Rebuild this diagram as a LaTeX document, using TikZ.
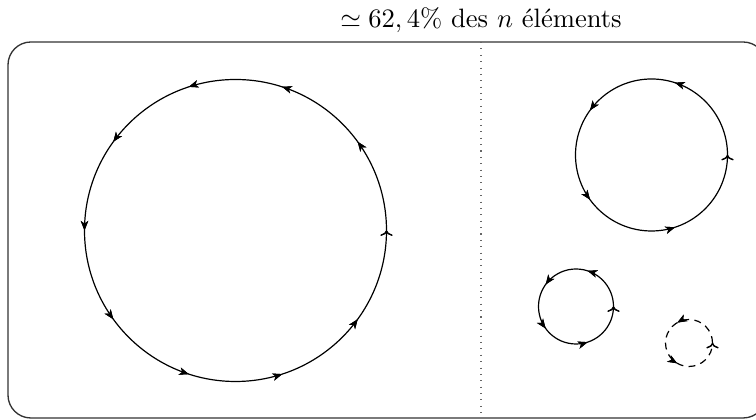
\documentclass[tikz,border=0pt]{standalone}
\usepackage{fontspec}
\usetikzlibrary{decorations.markings,arrows.meta}
\tikzset{
  frame/.style={draw=black!80, line width=0.5pt, rounded corners=8.6pt},
  cyc/.style={draw=black, line width=0.45pt},
  startmark/.style={postaction={decorate},
    decoration={markings, mark=at position 0 with {\arrow{To[length=2pt,width=4.5pt]}}}},
  arrowsTen/.style={startmark, postaction={decorate},
    decoration={markings, mark=between positions 0.1 and 0.95 step 0.1 with {\arrow{Stealth[length=3.6pt,width=2.8pt,inset=1pt]}}}},
  arrowsFive/.style={startmark, postaction={decorate},
    decoration={markings, mark=between positions 0.2 and 0.9 step 0.2 with {\arrow{Stealth[length=3.6pt,width=2.8pt,inset=1pt]}}}},
  arrowsThree/.style={startmark, postaction={decorate},
    decoration={markings, mark=between positions 0.3333 and 0.8 step 0.3333 with {\arrow{Stealth[length=3.6pt,width=2.8pt,inset=1pt]}}}},
}
\begin{document}
\begin{tikzpicture}[x=0.376pt,y=0.376pt]
\useasboundingbox (0,0) rectangle (756,420);
\clip (0,0) rectangle (756,420);
\coordinate (bl) at (8,2);
\coordinate (tr) at (766,378);
\draw[frame] (bl) rectangle (tr);
\coordinate (dtop) at (481,378);
\coordinate (dbot) at (481,2);
\draw[dotted, draw=black!60, line width=0.4pt] (dtop) -- (dbot);
\node[above, inner sep=3.33pt] (lab) at (dtop) {$\simeq 62,4\%$ des $n$ éléments};
\draw[cyc, arrowsTen] (235.5,189.5) circle[radius=151];
\draw[cyc, arrowsFive] (651.5,265) circle[radius=76];
\draw[cyc, arrowsFive] (576,113.5) circle[radius=37.5];
\draw[cyc, dash pattern=on 2.6pt off 2pt, arrowsThree] (689,77) circle[radius=23.5];
\end{tikzpicture}
\end{document}
